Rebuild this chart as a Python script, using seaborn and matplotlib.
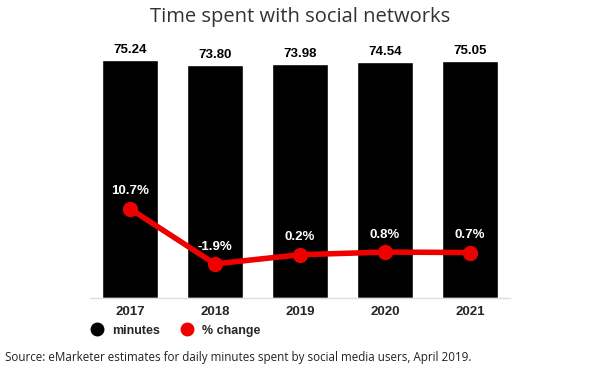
import matplotlib.pyplot as plt
import seaborn as sns
from matplotlib.lines import Line2D

# data
years = ["2017", "2018", "2019", "2020", "2021"]
minutes = [75.24, 73.80, 73.98, 74.54, 75.05]
pct_change = [10.7, -1.9, 0.2, 0.8, 0.7]
pct_labels = ["10.7%", "-1.9%", "0.2%", "0.8%", "0.7%"]

RED = "#ee0000"

sns.set_theme(style="white")
plt.rcParams["font.family"] = ["Liberation Sans", "DejaVu Sans"]

fig = plt.figure(figsize=(6, 3.75), dpi=100)
ax = fig.add_axes([0.15, 0.2053, 0.70, 0.6614])

# bars (minutes)
sns.barplot(x=years, y=minutes, color="black", width=0.65, saturation=1, ax=ax)
ax.set_ylim(0, 78.4)
for i, v in enumerate(minutes):
    ax.text(i, v + 1.2, f"{v:.2f}", ha="center", va="bottom",
            fontsize=9.5, fontweight="bold", color="black")

# line (% change) on twin axis
ax2 = ax.twinx()
sns.pointplot(x=years, y=pct_change, color=RED, markers="o", markersize=8,
              linewidth=4, ax=ax2)
ax2.set_ylim(-9.7, 47.0)
for i, (v, lab) in enumerate(zip(pct_change, pct_labels)):
    ax2.text(i, v + 2.6, lab, ha="center", va="bottom",
             fontsize=9.5, fontweight="bold", color="white")

for a in (ax, ax2):
    a.set_xlim(-0.47, 4.47)
    a.set_yticks([])
    a.set_ylabel("")
    a.set_xlabel("")
    for s in ["top", "left", "right"]:
        a.spines[s].set_visible(False)
ax2.spines["bottom"].set_visible(False)
ax.spines["bottom"].set_color("#dddddd")
ax.spines["bottom"].set_linewidth(1)
ax.tick_params(axis="x", length=0, pad=6)
for t in ax.get_xticklabels():
    t.set_fontweight("bold")
    t.set_fontsize(9.5)
ax2.tick_params(axis="x", length=0, labelbottom=False)

fig.text(0.5, 0.955, "Time spent with social networks", ha="center", va="center",
         fontsize=14.5, color="#333333", family=["Open Sans", "DejaVu Sans"])

handles = [
    Line2D([], [], marker="o", linestyle="", color="black", markersize=9),
    Line2D([], [], marker="o", linestyle="", color=RED, markersize=9),
]
fig.legend(handles, ["minutes", "% change"], loc="center left",
           bbox_to_anchor=(0.122, 0.118), ncol=2, frameon=False,
           handletextpad=0.2, columnspacing=1.2,
           prop={"weight": "bold", "size": 9})

fig.text(0.008, 0.048,
         "Source: eMarketer estimates for daily minutes spent by social media users, April 2019.",
         ha="left", va="center", fontsize=8.4, color="#222222",
         family=["Open Sans", "DejaVu Sans"])

fig.savefig("out.png", dpi=100)
